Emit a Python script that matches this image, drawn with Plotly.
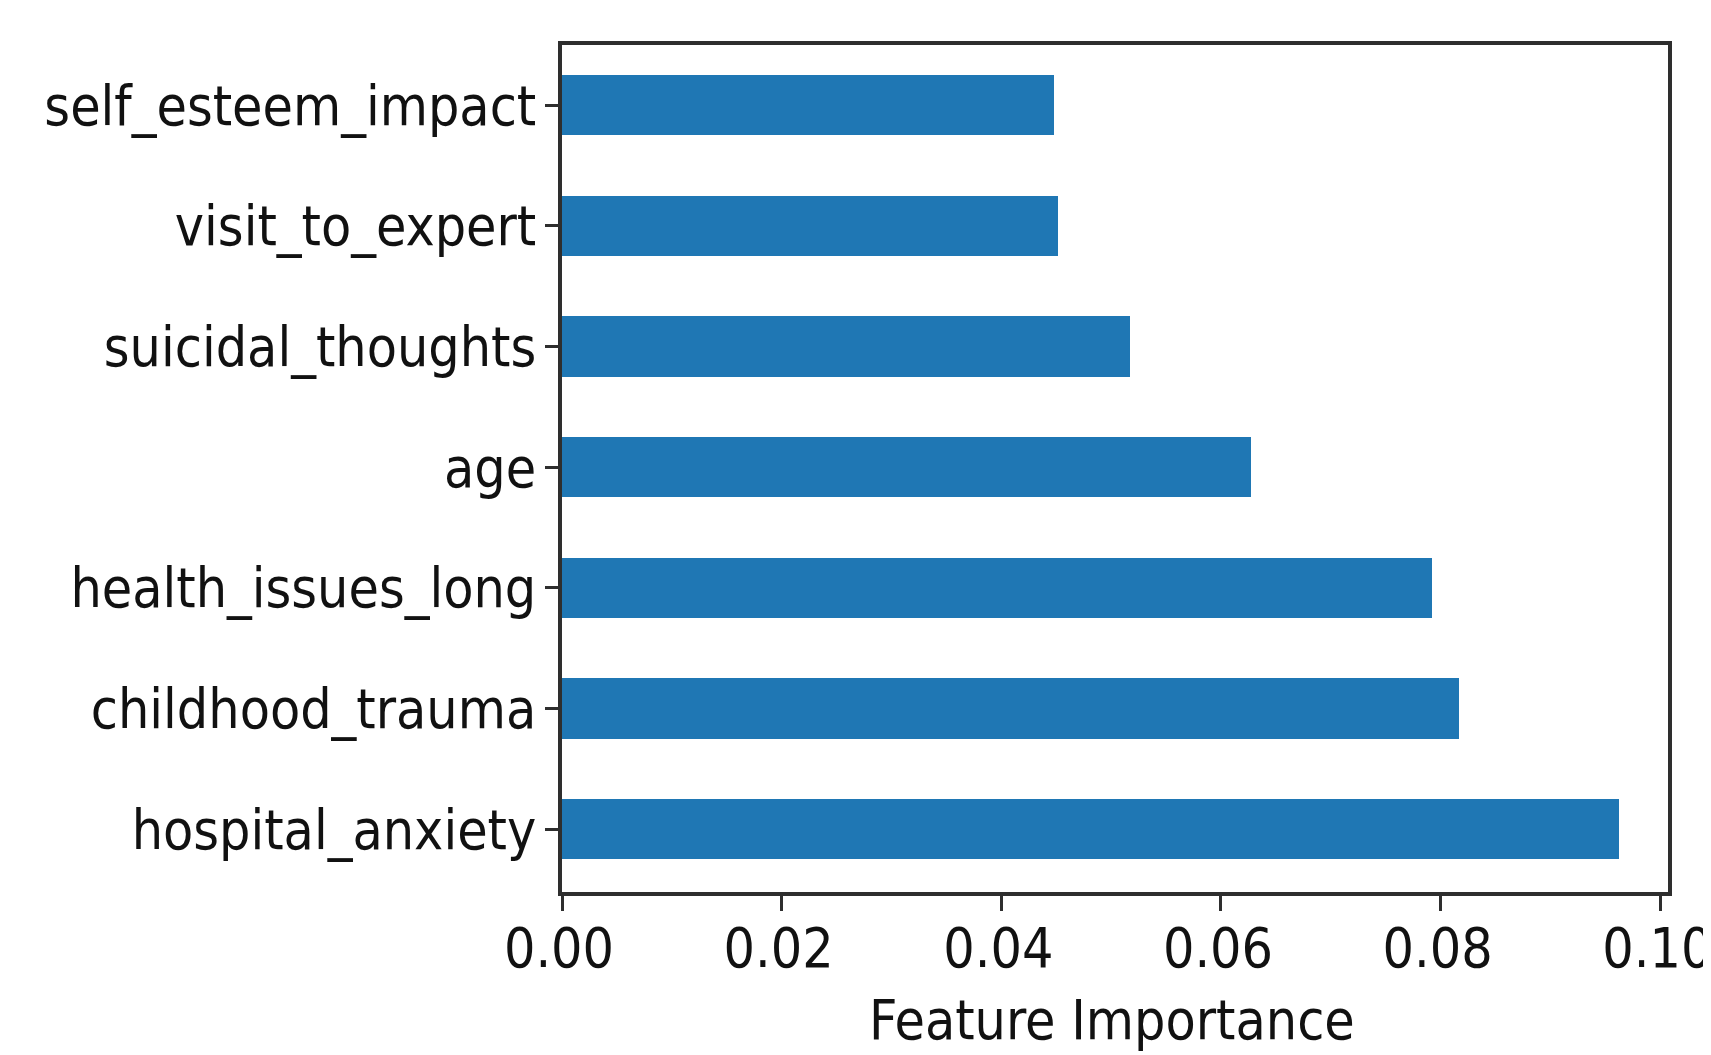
import plotly.graph_objects as go

features = ["hospital_anxiety", "childhood_trauma", "health_issues_long", "age",
            "suicidal_thoughts", "visit_to_expert", "self_esteem_impact"]
importance = [0.0962, 0.0817, 0.0792, 0.0627, 0.0517, 0.0452, 0.0448]
x_ticks = [0.00, 0.02, 0.04, 0.06, 0.08, 0.10]
x_tick_labels = ["0.00", "0.02", "0.04", "0.06", "0.08", "0.10"]
x_title = "Feature Importance"

FONT = "DejaVu Sans Condensed, Liberation Sans Narrow, DejaVu Sans, sans-serif"
LINE = "#2e2e2e"
FS = 55

fig = go.Figure(go.Bar(
    x=importance, y=features, orientation="h",
    width=0.5, marker=dict(color="#1f77b4", line=dict(width=0)),
))

# page body has an 8px default margin, so the figure is sized/offset to compensate
fig.update_layout(
    width=1703, height=1047,
    margin=dict(l=554, r=43, t=37, b=163),
    paper_bgcolor="white", plot_bgcolor="white",
    font=dict(family=FONT, size=FS, color="#111111"),
    showlegend=False,
    bargap=0,
    annotations=[dict(
        text=x_title, xref="paper", yref="paper", x=0.497, y=-0.111,
        xanchor="center", yanchor="top", showarrow=False,
        font=dict(family=FONT, size=FS, color="#111111"),
    )],
)
fig.update_xaxes(
    range=[0, 0.1007], tickvals=x_ticks, ticktext=x_tick_labels,
    automargin=False, ticklabeloverflow="allow", ticklabelstandoff=-10,
    ticklabelshift=-3,
    showgrid=False, zeroline=False,
    showline=True, linecolor=LINE, linewidth=3.5, mirror=True,
    ticks="outside", ticklen=15, tickwidth=2.5, tickcolor=LINE,
    tickfont=dict(family=FONT, size=FS, color="#111111"),
)
fig.update_yaxes(
    range=[-0.52, 6.5], categoryorder="array", categoryarray=features,
    automargin=False, ticklabelstandoff=-2,
    showgrid=False, zeroline=False,
    showline=True, linecolor=LINE, linewidth=3.5, mirror=True,
    ticks="outside", ticklen=13, tickwidth=2.5, tickcolor=LINE,
    tickfont=dict(family=FONT, size=FS, color="#111111"),
)

fig.write_html("out.html")
